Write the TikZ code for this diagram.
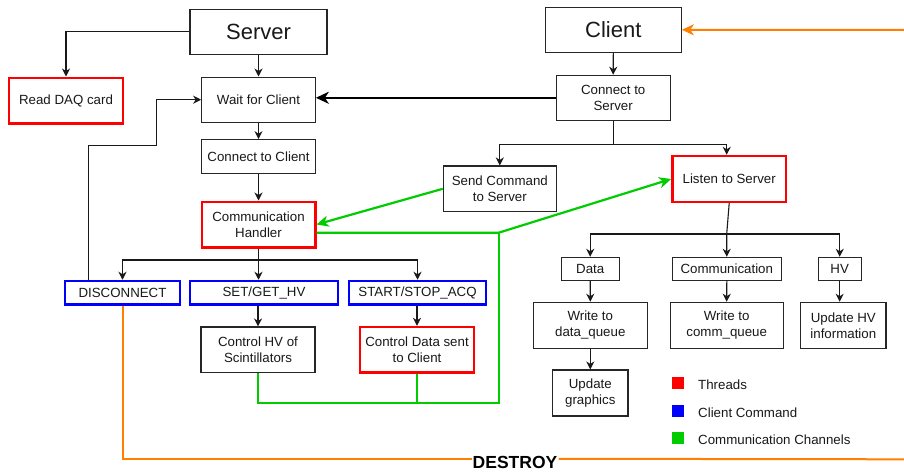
\documentclass[tikz,border=0pt]{standalone}
\usepackage{fontspec}
\setmainfont{Liberation Sans}
\usetikzlibrary{arrows.meta}
\definecolor{thrred}{RGB}{255,0,0}
\definecolor{cmdblue}{RGB}{0,0,255}
\definecolor{chgreen}{RGB}{0,204,0}
\definecolor{killorange}{RGB}{255,128,0}
\begin{document}
\begin{tikzpicture}[x=1pt,y=-1pt,
  font=\fontsize{13.3}{16}\selectfont,
  sz/.style n args={2}{minimum width=#1pt, minimum height=#2pt},
  box/.style={draw=black!85, line width=1.1pt, inner sep=0pt, align=center, text=black!90},
  thread/.style={box, draw=thrred, line width=2.4pt},
  cmd/.style={box, draw=cmdblue, line width=2.4pt},
  big/.style={font=\fontsize{22}{26}\selectfont},
  plain/.style={draw=black!90, line width=1.1pt},
  conn/.style={plain, -{Stealth[length=8pt,width=8pt,inset=2.5pt]}},
  bigconn/.style={draw=black, line width=2.6pt, -{Stealth[length=13pt,width=12pt,inset=4pt]}},
  chan/.style={draw=chgreen, line width=2.2pt},
  chanarrow/.style={chan, -{Stealth[length=12pt,width=11pt,inset=3.5pt]}},
  kill/.style={draw=killorange, line width=2pt},
  killarrow/.style={kill, -{Stealth[length=12pt,width=11pt,inset=3.5pt]}},
  legtext/.style={anchor=west, inner sep=0pt, text=black!90},
  legkey/.style={minimum size=12pt, inner sep=0pt}
]
\fill[white] (0,0) rectangle (904,471);
\useasboundingbox (0,0) rectangle (904,471);

% ---------- server side ----------
\node[box, big, sz={137}{45}] (server) at (258.5,31.8) {Server};
\node[thread, sz={114}{45.6}] (daq) at (66,100.5) {Read DAQ card};
\node[box, sz={113.6}{45.3}] (wait) at (258.5,99.7) {Wait for Client};
\node[box, sz={113.6}{34}] (conncl) at (258.5,156.7) {Connect to Client};
\node[thread, sz={113.6}{45.6}] (handler) at (258.5,224.5) {Communication\\Handler};
\node[cmd, sz={115}{23.7}] (disc) at (122.5,292.8) {DISCONNECT};
\node[cmd, sz={148}{23.7}] (setget) at (264,292.8) {SET/GET\_HV};
\node[cmd, sz={137}{23.7}] (startstop) at (417.5,292.8) {START/STOP\_ACQ};
\node[box, sz={114}{45.6}] (ctrlhv) at (258,349.8) {Control HV of\\Scintillators};
\node[thread, sz={114}{45.6}] (ctrldata) at (417,349.8) {Control Data sent\\to Client};

% ---------- client side ----------
\node[box, big, sz={136}{45}] (client) at (613.3,29.8) {Client};
\node[box, sz={113.7}{45}] (connsrv) at (613.2,97.8) {Connect to\\Server};
\node[box, sz={113}{45.7}] (sendcmd) at (499.8,188.8) {Send Command\\to Server};
\node[thread, sz={113.7}{46}] (listen) at (729.2,179) {Listen to Server};
\node[box, sz={58.3}{22.7}] (data) at (590.2,268.7) {Data};
\node[box, sz={109}{22.7}] (comm) at (726.8,268.7) {Communication};
\node[box, sz={42.7}{22.7}] (hv) at (839.7,268.7) {HV};
\node[box, sz={114}{46}] (wdata) at (590.3,325.3) {Write to\\data\_queue};
\node[box, sz={113.3}{46}] (wcomm) at (726.7,325.3) {Write to\\comm\_queue};
\node[box, sz={85.3}{46}] (updhv) at (843.3,325.3) {Update HV\\information};
\node[box, sz={75.3}{46}] (updgfx) at (590.3,393) {Update\\graphics};

% ---------- legend ----------
\node[legkey, fill=thrred] (keyred) at (678,382.5) {};
\node[legkey, fill=cmdblue] (keyblue) at (678,410.5) {};
\node[legkey, fill=chgreen] (keygreen) at (678,438) {};
\node[legtext] (legred) at (698,384.3) {Threads};
\node[legtext] (legblue) at (698,412.3) {Client Command};
\node[legtext] (leggreen) at (698,439.3) {Communication Channels};

\node[font=\bfseries\fontsize{17.5}{17.5}\selectfont, inner xsep=1pt, inner ysep=0pt, anchor=base, text=black] (destroy) at (515,468.2) {DESTROY};

% ---------- server connectors ----------
\draw[conn] (server.west) -| (daq.north);
\draw[conn] (server.south) -- (wait.north);
\draw[conn] (wait.south) -- (conncl.north);
\draw[conn] (conncl.south) -- (handler.north);
\draw[plain] (handler.south) -- ++(0,11.5) coordinate (hsplit);
\draw[conn] (hsplit) -| (disc.north);
\draw[conn] (hsplit) -- (hsplit |- setget.north);
\draw[conn] (hsplit) -| (startstop.north);
\draw[conn] (ctrlhv.north |- setget.south) -- (ctrlhv.north);
\draw[conn] (ctrldata.north |- startstop.south) -- (ctrldata.north);
\coordinate (loopbend) at (156.7,145.3);
\draw[conn] ([xshift=-34pt]disc.north) |- (loopbend) |- (wait.west);

% ---------- client connectors ----------
\draw[conn] (client.south) -- (connsrv.north);
\draw[bigconn] (connsrv.west) -- (connsrv.west -| wait.east);
\draw[plain] (connsrv.south) -- ++(0,23.3) coordinate (csplit);
\draw[conn] (csplit) -| (sendcmd.north);
\draw[conn] (csplit) -| ([xshift=-2.5pt]listen.north);
\coordinate (lsplit) at (726.7,234);
\draw[plain] (listen.south) -- (lsplit);
\draw[conn] (lsplit) -| (data.north);
\draw[conn] (lsplit) -- (comm.north);
\draw[conn] (lsplit) -| (hv.north);
\draw[conn] (data.south) -- (wdata.north);
\draw[conn] (comm.south) -- (wcomm.north);
\draw[conn] (hv.south) -- (hv.south |- updhv.north);
\draw[conn] (wdata.south) -- (updgfx.north);

% ---------- communication channels ----------
\draw[chanarrow] (sendcmd.west) -- (handler.east);
\coordinate (gjoin) at (498.7,232.7);
\draw[chanarrow] ([yshift=-8.2pt]handler.east) -- (gjoin) -- (listen.west);
\draw[chan] (gjoin) -- (gjoin |- 0,402.7) coordinate (gbottom) -| (ctrlhv.south);
\draw[chan] (ctrldata.south) -- (ctrldata.south |- gbottom);

% ---------- destroy path ----------
\coordinate (edgetop) at (904,30);
\coordinate (edgebottom) at (904,459.3);
\draw[killarrow] (edgetop) -- (client.east);
\draw[kill] (disc.south) |- ([yshift=3.4pt]destroy.west);
\draw[kill] ([yshift=3.4pt]destroy.east) -- (edgebottom);
\end{tikzpicture}
\end{document}
